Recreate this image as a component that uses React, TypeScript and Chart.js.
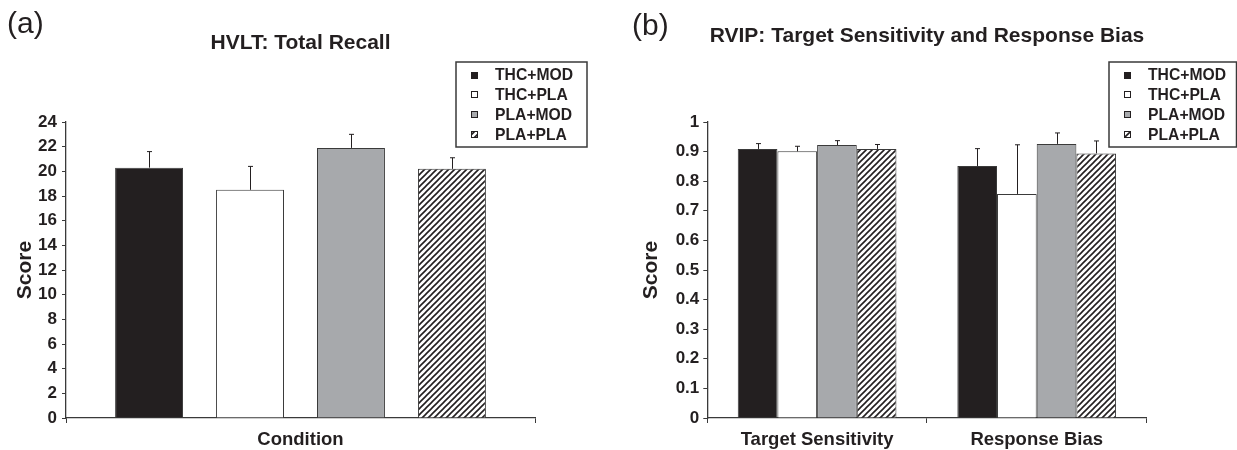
import React, { useEffect, useRef } from 'react';
import { Chart, registerables } from 'chart.js';

Chart.register(...registerables);

// ---------- data ----------
const groups = ['THC+MOD', 'THC+PLA', 'PLA+MOD', 'PLA+PLA'];

const hvltCategories = ['Condition'];
const hvltMeans = [20.3, 18.5, 21.9, 20.2];
const hvltErrors = [1.3, 1.9, 1.1, 0.9];
const hvltMax = 24;
const hvltStep = 2;

const rvipCategories = ['Target Sensitivity', 'Response Bias'];
const rvipThcMod = [0.909, 0.851];
const rvipThcPla = [0.901, 0.757];
const rvipPlaMod = [0.922, 0.926];
const rvipPlaPla = [0.909, 0.894];
const rvipThcModErr = [0.018, 0.059];
const rvipThcPlaErr = [0.017, 0.166];
const rvipPlaModErr = [0.015, 0.037];
const rvipPlaPlaErr = [0.015, 0.042];
const rvipMax = 1;
const rvipStep = 0.1;

// ---------- style ----------
const FONT = '"Liberation Sans", Arial, Helvetica, sans-serif';
const TEXT = '#231f20';
const AXIS = '#3a3a3a';
const BLACK = '#231f20';
const GRAY = '#a7a9ac';
const WHITE = '#ffffff';

function makeHatch(): CanvasPattern | string {
  const c = document.createElement('canvas');
  const s = 6;
  c.width = s;
  c.height = s;
  const g = c.getContext('2d');
  if (!g) return '#888';
  g.fillStyle = '#fff';
  g.fillRect(0, 0, s, s);
  g.strokeStyle = '#231f20';
  g.lineWidth = 1.6;
  g.beginPath();
  g.moveTo(-1, s + 1);
  g.lineTo(s + 1, -1);
  g.moveTo(-1, 1);
  g.lineTo(1, -1);
  g.moveTo(s - 1, s + 1);
  g.lineTo(s + 1, s - 1);
  g.stroke();
  return g.createPattern(c, 'repeat') || '#888';
}

const decorPlugin = {
  id: 'decor',
  afterDraw(chart: any, _args: any, opts: any) {
    const ctx: CanvasRenderingContext2D = chart.ctx;
    ctx.save();
    ctx.fillStyle = TEXT;
    ctx.textBaseline = 'alphabetic';
    ctx.textAlign = 'left';
    ctx.font = `30px ${FONT}`;
    ctx.fillText(opts.panel, opts.panelX, opts.panelY);
    ctx.font = `bold 21px ${FONT}`;
    ctx.textAlign = 'center';
    ctx.fillText(opts.title, opts.titleX, opts.titleY);

    const { lx, ly, lw, lh } = opts;
    ctx.fillStyle = '#fff';
    ctx.fillRect(lx, ly, lw, lh);
    ctx.strokeStyle = AXIS;
    ctx.lineWidth = 1.5;
    ctx.strokeRect(lx, ly, lw, lh);
    chart.data.datasets.forEach((ds: any, i: number) => {
      const cy = ly + 13 + i * 19.8;
      ctx.fillStyle = ds.backgroundColor;
      ctx.fillRect(lx + 15, Math.round(cy - 3.5), 7, 7);
      ctx.strokeStyle = '#231f20';
      ctx.lineWidth = 1;
      ctx.strokeRect(lx + 15.5, Math.round(cy - 3.5) + 0.5, 6, 6);
      ctx.fillStyle = TEXT;
      ctx.font = `bold 15.7px ${FONT}`;
      ctx.textAlign = 'left';
      ctx.textBaseline = 'middle';
      ctx.fillText(ds.label, lx + 39, cy + 1);
    });
    ctx.restore();
  },
};

const errorBarPlugin = {
  id: 'errorBars',
  afterDatasetsDraw(chart: any) {
    const ctx: CanvasRenderingContext2D = chart.ctx;
    const y = chart.scales.y;
    ctx.save();
    ctx.strokeStyle = '#231f20';
    ctx.lineWidth = 1;
    chart.data.datasets.forEach((ds: any, i: number) => {
      const meta = chart.getDatasetMeta(i);
      meta.data.forEach((el: any, j: number) => {
        const v = ds.data[j];
        const e = ds.errors[j];
        const yt = y.getPixelForValue(v + e);
        const x = Math.round(el.x) + 0.5;
        ctx.beginPath();
        ctx.moveTo(x, el.y);
        ctx.lineTo(x, yt);
        ctx.moveTo(x - 2.5, yt);
        ctx.lineTo(x + 2.5, yt);
        ctx.stroke();
      });
    });
    ctx.restore();
  },
};

function buildOptions(p: any) {
  return {
    responsive: false,
    animation: false,
    layout: { padding: { top: 122, right: p.padRight, bottom: 0, left: 0 } },
    datasets: {
      bar: {
        categoryPercentage: p.cat,
        barPercentage: p.bar,
        borderWidth: 1,
        borderColor: AXIS,
      },
    },
    plugins: {
      legend: { display: false },
      tooltip: { enabled: false },
      title: { display: false },
      decor: p.decor,
    },
    scales: {
      x: {
        grid: {
          display: true,
          drawOnChartArea: false,
          drawTicks: true,
          tickLength: 5,
          color: AXIS,
          offset: true,
        },
        border: { display: true, color: AXIS, width: 1.3 },
        ticks: {
          color: TEXT,
          font: { family: FONT, size: 18.5, weight: 'bold' },
          padding: 6,
          maxRotation: 0,
          autoSkip: false,
        },
        afterFit: (s: any) => {
          s.height = 32;
        },
      },
      y: {
        min: 0,
        max: p.yMax,
        ticks: {
          stepSize: p.yStep,
          color: TEXT,
          font: { family: FONT, size: 17, weight: 'bold' },
          padding: p.tickPad,
          callback: (v: any) => String(Number(Number(v).toFixed(2))),
        },
        grid: {
          display: true,
          drawOnChartArea: false,
          drawTicks: true,
          tickLength: 4,
          color: AXIS,
        },
        border: { display: true, color: AXIS, width: 1.3 },
        title: {
          display: true,
          text: 'Score',
          color: TEXT,
          font: { family: FONT, size: 21, weight: 'bold' },
          padding: { top: p.titlePad, bottom: 0 },
        },
        afterFit: (s: any) => {
          s.width = p.axisLeft;
        },
      },
    },
  };
}

function ChartCanvas({ width, build }: { width: number; build: () => any }) {
  const ref = useRef<HTMLCanvasElement>(null);
  useEffect(() => {
    if (!ref.current) return;
    const chart = new Chart(ref.current, build());
    return () => chart.destroy();
  }, []);
  return (
    <canvas
      ref={ref}
      width={width}
      height={450}
      style={{ display: 'block', width, height: 450 }}
    />
  );
}

function buildHvlt() {
  const hatch = makeHatch();
  const fills = [BLACK, WHITE, GRAY, hatch];
  return {
    type: 'bar',
    data: {
      labels: hvltCategories,
      datasets: groups.map((g, i) => ({
        label: g,
        data: [hvltMeans[i]],
        errors: [hvltErrors[i]],
        backgroundColor: fills[i],
      })),
    },
    options: buildOptions({
      padRight: 85,
      axisLeft: 66,
      cat: 0.861,
      bar: 0.673,
      yMax: hvltMax,
      yStep: hvltStep,
      tickPad: 5,
      titlePad: 12.5,
      decor: {
        panel: '(a)',
        panelX: 7,
        panelY: 33,
        title: 'HVLT: Total Recall',
        titleX: 300.5,
        titleY: 49,
        lx: 456,
        ly: 62,
        lw: 131,
        lh: 85,
      },
    }),
    plugins: [errorBarPlugin, decorPlugin],
  };
}

function buildRvip() {
  const hatch = makeHatch();
  const fills = [BLACK, WHITE, GRAY, hatch];
  const values = [rvipThcMod, rvipThcPla, rvipPlaMod, rvipPlaPla];
  const errs = [rvipThcModErr, rvipThcPlaErr, rvipPlaModErr, rvipPlaPlaErr];
  return {
    type: 'bar',
    data: {
      labels: rvipCategories,
      datasets: groups.map((g, i) => ({
        label: g,
        data: values[i],
        errors: errs[i],
        backgroundColor: fills[i],
      })),
    },
    options: buildOptions({
      padRight: 90.5,
      axisLeft: 87.3,
      cat: 0.7227,
      bar: 1,
      yMax: rvipMax,
      yStep: rvipStep,
      tickPad: 4,
      titlePad: 19,
      decor: {
        panel: '(b)',
        panelX: 12,
        panelY: 35,
        title: 'RVIP: Target Sensitivity and Response Bias',
        titleX: 307,
        titleY: 42,
        lx: 489,
        ly: 62,
        lw: 127.5,
        lh: 85,
      },
    }),
    plugins: [errorBarPlugin, decorPlugin],
  };
}

export default function App() {
  return (
    <div
      style={{
        position: 'absolute',
        left: 0,
        top: 0,
        width: 1237,
        height: 450,
        display: 'flex',
        background: '#fff',
      }}
    >
      <ChartCanvas width={620} build={buildHvlt} />
      <ChartCanvas width={617} build={buildRvip} />
    </div>
  );
}
